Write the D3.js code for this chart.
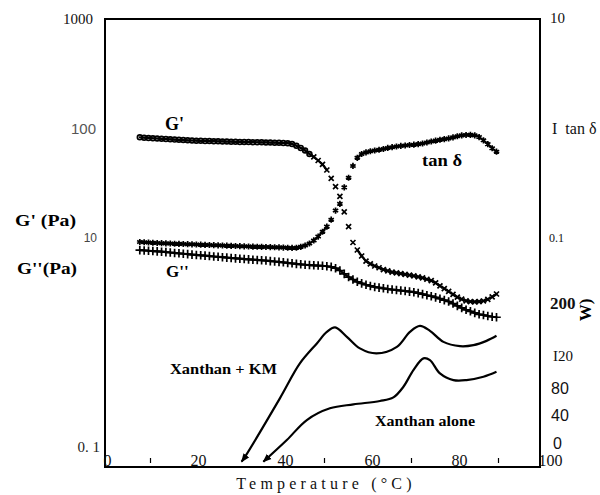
<!DOCTYPE html>
<html>
<head>
<meta charset="utf-8">
<script src="https://cdn.jsdelivr.net/npm/d3@7"></script>
<style>
  body { margin: 0; background: #fff; }
  svg { display: block; }
</style>
</head>
<body>
<svg id="chart" width="600" height="495"></svg>
<script>
// Temperature sweep, one reading per degree (°C)
const temps = [8,9,10,11,12,13,14,15,16,17,18,19,20,21,22,23,24,25,26,27,28,29,30,31,32,33,34,35,36,37,38,39,40,41,42,43,44,45,46,47,48,49,50,51,52,53,54,55,56,57,58,59,60,61,62,63,64,65,66,67,68,69,70,71,72,73,74,75,76,77,78,79,80,81,82,83,84,85,86,87,88,89,90];

// Storage modulus G' (Pa)
const gPrime = [83,82.5,82,81.5,81,80.5,80,79.6,79.2,78.8,78.4,78,77.7,77.4,77.2,77,76.8,76.6,76.4,76.2,76,75.8,75.6,75.4,75.2,75.1,75,74.9,74.8,74.6,74.4,74.2,74,73.7,73.4,72.3,69.5,66.5,63,58.5,55,51,47,41.8,35,29.5,24,17.3,12.7,9.1,7.77,6.85,6.15,5.8,5.55,5.35,5.15,5.0,4.88,4.8,4.72,4.65,4.59,4.5,4.42,4.32,4.2,4.08,3.9,3.65,3.45,3.25,3.05,2.88,2.76,2.67,2.62,2.61,2.62,2.66,2.75,2.9,3.08];

// Loss modulus G'' (Pa)
const gDouble = [7.75,7.7,7.65,7.6,7.55,7.5,7.43,7.37,7.3,7.25,7.18,7.12,7.05,7.0,6.95,6.9,6.84,6.78,6.73,6.68,6.62,6.57,6.52,6.47,6.42,6.38,6.34,6.3,6.26,6.22,6.15,6.1,6.05,6.0,5.93,5.87,5.8,5.75,5.7,5.66,5.63,5.6,5.58,5.52,5.45,5.3,5.05,4.7,4.4,4.18,3.98,3.85,3.74,3.65,3.57,3.52,3.47,3.42,3.38,3.35,3.31,3.28,3.24,3.2,3.14,3.07,3.0,2.94,2.87,2.79,2.71,2.63,2.52,2.4,2.3,2.21,2.14,2.07,2.01,1.98,1.94,1.91,1.89];

// Loss tangent tan δ
const tanDelta = [0.092,0.0915,0.091,0.0905,0.09,0.0897,0.0893,0.089,0.0887,0.0884,0.0881,0.0878,0.0875,0.0872,0.0869,0.0866,0.0863,0.086,0.0857,0.0854,0.0851,0.0848,0.0845,0.0842,0.0839,0.0836,0.0834,0.0832,0.083,0.0828,0.0826,0.0824,0.0821,0.0818,0.0814,0.0812,0.0815,0.083,0.0855,0.089,0.095,0.103,0.114,0.127,0.147,0.178,0.205,0.29,0.355,0.455,0.54,0.585,0.605,0.62,0.63,0.64,0.65,0.665,0.675,0.685,0.693,0.7,0.707,0.712,0.72,0.73,0.745,0.76,0.775,0.79,0.8,0.812,0.83,0.85,0.865,0.873,0.875,0.865,0.835,0.78,0.72,0.66,0.614];

// DSC heat flow traces
const dscKmTemp  = [31.4,32.2,40.2,44.8,48.7,51.0,52.9,55.6,58.6,62.4,67.1,70.1,72.4,74.7,77.8,81.6,84.7,87.7,90.0];
const dscKmFlow  = [-27.5,-20.1,65.6,117.0,146.4,163.4,169.9,156.1,139.1,131.7,141.4,163.4,172.2,164.9,148.7,142.4,143.9,150.2,157.6];
const dscAloneTemp = [36.4,41.8,46.4,51.7,57.1,63.2,66.3,68.6,70.9,73.2,74.7,77.0,80.1,83.1,87.0,90.0];
const dscAloneFlow = [-27.5,4.4,33.8,51.0,56.8,61.7,67.1,82.7,107.2,124.4,121.9,102.3,92.5,92.5,97.4,104.7];

// Axis ticks and their labels
const tempTicks = [0,20,40,60,80,100];
const tempMinorTicks = [10,50,70,90];
const modulusTicks = [1000,100,10,0.1];
const modulusTickLabels = ["1000","100","10","0. 1"];
const tanTicks = [10,1,0.1];
const tanTickLabels = ["10","I  tan \u03b4","0.1"];
const flowTicks = [200,120,80,40,0];
const flowTickLabels = ["200","I20","80","40","0"];

const svg = d3.select("#chart");
const L = 105, R = 540, T = 19, B = 467;

const x = d3.scaleLinear().domain([0,100]).range([L,R]);
const yMod = d3.scaleLog().domain([0.1,1000]).range([457,T]);
const yTan = d3.scaleLog().domain([0.001,10]).range([457,T]);
const yFlow = d3.scaleLinear().domain([0,200]).range([443,307]);

const serif = "'Liberation Serif','Times New Roman',serif";
const sans = "'Liberation Sans',Arial,sans-serif";

// arrowhead for the start of the DSC traces
svg.append("defs").append("marker")
  .attr("id","arrow").attr("viewBox","0 0 10 10")
  .attr("refX",9).attr("refY",5)
  .attr("markerWidth",4).attr("markerHeight",4)
  .attr("orient","auto-start-reverse")
  .append("path").attr("d","M0,1L10,5L0,9z").attr("fill","#000");

// plot frame
svg.append("rect").attr("x",L).attr("y",T).attr("width",R-L).attr("height",B-T)
  .attr("fill","none").attr("stroke","#000").attr("stroke-width",2);

// bottom axis: labels sit on the axis line, inside the frame
const xAxis = svg.append("g").attr("transform",`translate(0,${B})`)
  .call(d3.axisTop(x).tickValues(tempTicks).tickSize(0).tickPadding(1).tickFormat(d3.format("d")));
xAxis.select(".domain").remove();
xAxis.selectAll("text").attr("text-anchor","start").attr("dx",-2)
  .style("font-family",serif).style("font-size","16px").attr("fill","#111");
svg.append("g").selectAll("line").data(tempMinorTicks).join("line")
  .attr("x1",d=>x(d)+2).attr("x2",d=>x(d)+2).attr("y1",B-9).attr("y2",B-4)
  .attr("stroke","#000").attr("stroke-width",1.2);

// left axis: moduli (log)
const yAxisL = svg.append("g").attr("transform",`translate(${L},0)`)
  .call(d3.axisLeft(yMod).tickValues(modulusTicks).tickSize(0).tickPadding(10)
    .tickFormat((d,i)=>modulusTickLabels[i]));
yAxisL.select(".domain").remove();
yAxisL.selectAll("text").each(function(d){
  const t = d3.select(this);
  if (d === 1000) t.style("font-family",serif).style("font-size","15px").attr("dx",-2).attr("fill","#111");
  else if (d === 100) t.style("font-family",sans).style("font-size","15px").attr("fill","#555").attr("dx",1);
  else if (d === 10) t.style("font-family",sans).style("font-size","12px").attr("fill","#444").attr("dx",2);
  else t.style("font-family",serif).style("font-size","15px").attr("fill","#222").attr("dy","-0.4em").attr("dx",5);
});

// right axis: tan δ (log)
const yAxisR = svg.append("g").attr("transform",`translate(${R},0)`)
  .call(d3.axisRight(yTan).tickValues(tanTicks).tickSize(0).tickPadding(10)
    .tickFormat((d,i)=>tanTickLabels[i]));
yAxisR.select(".domain").remove();
yAxisR.selectAll("text").each(function(d){
  const t = d3.select(this).style("font-family",serif).attr("fill","#111").style("white-space","pre");
  if (d === 10) t.style("font-size","15px").attr("dy","0.2em");
  else if (d === 1) t.style("font-size","16px").attr("dx",2);
  else t.style("font-size","12px").attr("dx",-1);
});

// right axis: DSC heat flow (linear)
const yAxisF = svg.append("g").attr("transform",`translate(${R},0)`)
  .call(d3.axisRight(yFlow).tickValues(flowTicks).tickSize(0).tickPadding(10)
    .tickFormat((d,i)=>flowTickLabels[i]));
yAxisF.select(".domain").remove();
yAxisF.selectAll("text").each(function(d){
  const t = d3.select(this).attr("fill","#111");
  if (d === 200) t.style("font-family",serif).style("font-size","17px").style("font-weight","bold").attr("dy","0.1em");
  else if (d === 120) t.style("font-family",serif).style("font-size","15px").attr("dx",3).attr("dy","-0.05em");
  else t.style("font-family",sans).style("font-size","16px").attr("dx",d===0?3:1);
});
svg.append("text").attr("transform","translate(591,310) rotate(-90)")
  .attr("text-anchor","middle").style("font-family",serif).style("font-weight","bold")
  .style("font-size","17px").text("W)");

// rheology series: markers joined only where neighbouring readings sit close together
function series(values, yScale, symbolFor, size) {
  const pts = temps.map((t,i)=>[x(t), yScale(values[i]), t]);
  const segs = d3.pairs(pts).filter(([a,b]) => Math.hypot(b[0]-a[0], b[1]-a[1]) < 7.5);
  svg.append("g").selectAll("line").data(segs).join("line")
    .attr("x1",s=>s[0][0]).attr("y1",s=>s[0][1])
    .attr("x2",s=>s[1][0]).attr("y2",s=>s[1][1])
    .attr("stroke","#000").attr("stroke-width",2.2).attr("stroke-linecap","round");
  svg.append("g").selectAll("path").data(pts).join("path")
    .attr("transform",p=>`translate(${p[0]},${p[1]})`)
    .attr("d",p=>d3.symbol().type(symbolFor(p[2])).size(size)())
    .attr("fill","none").attr("stroke","#000").attr("stroke-width",1.7);
}
series(gPrime, yMod, t => t <= 47 ? d3.symbolCircle : d3.symbolTimes, 18);
series(tanDelta, yTan, () => d3.symbolAsterisk, 26);
series(gDouble, yMod, () => d3.symbolPlus, 26);

// DSC traces
const dscLine = d3.line().curve(d3.curveCatmullRom.alpha(0.5));
[[dscKmTemp,dscKmFlow],[dscAloneTemp,dscAloneFlow]].forEach(([ts,fs])=>{
  svg.append("path")
    .attr("d", dscLine(ts.map((t,i)=>[x(t), yFlow(fs[i])])))
    .attr("fill","none").attr("stroke","#000").attr("stroke-width",2.2)
    .attr("marker-start","url(#arrow)");
});

// annotations
function label(txt, xp, yp, size, opts={}) {
  const t = svg.append("text").attr("x",xp).attr("y",yp)
    .style("font-family",serif).style("font-size",size+"px")
    .style("font-weight", opts.bold===false ? "normal" : "bold")
    .attr("fill","#000").text(txt);
  if (opts.len) t.attr("textLength",opts.len).attr("lengthAdjust","spacingAndGlyphs");
  return t;
}
label("G'", 165, 130, 18);
label("G''", 166, 277, 17);
label("tan \u03b4", 422, 166, 16, {len:40});
label("G' (Pa)", 15, 226, 17, {len:61});
label("G''(Pa)", 17, 274, 17, {len:60});
label("Xanthan + KM", 170, 374, 15, {len:107});
label("Xanthan alone", 375, 426, 15, {len:100});

svg.append("text").attr("x",326).attr("y",489).attr("text-anchor","middle")
  .style("font-family",serif).style("font-size","16px").style("letter-spacing","4.2px")
  .attr("fill","#111").text("Temperature (\u00b0C)");
</script>
</body>
</html>
